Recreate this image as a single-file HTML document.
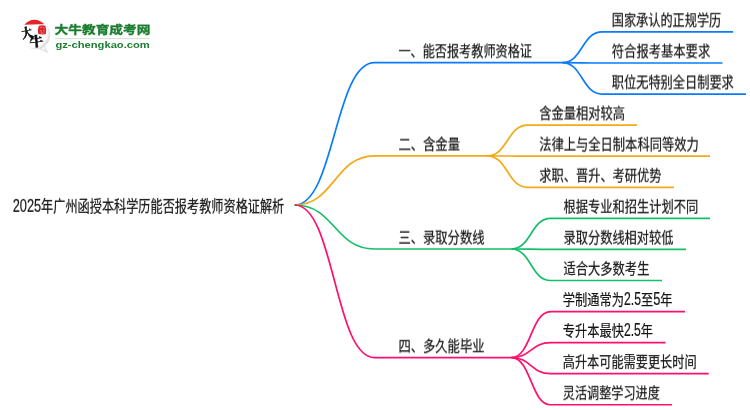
<!DOCTYPE html>
<html lang="zh-CN"><head><meta charset="utf-8"><title>2025年广州函授本科学历能否报考教师资格证解析</title>
<style>
html,body{margin:0;padding:0;background:#fff;}
body{width:750px;height:410px;overflow:hidden;}
svg{display:block;font-family:"Liberation Sans", "Noto Sans CJK SC", sans-serif;}
</style></head><body>
<svg width="750" height="410" viewBox="0 0 750 410">
<rect width="750" height="410" fill="#fff"/>
<defs>
<filter id="s1" x="-5%" y="-25%" width="110%" height="150%"><feConvolveMatrix order="1 2" kernelMatrix="0.1 0.9" targetY="0" edgeMode="none" preserveAlpha="false"/></filter>
<filter id="s2" x="-5%" y="-25%" width="110%" height="150%"><feConvolveMatrix order="1 2" kernelMatrix="0.2 0.8" targetY="0" edgeMode="none" preserveAlpha="false"/></filter>
<filter id="s3" x="-5%" y="-25%" width="110%" height="150%"><feConvolveMatrix order="1 2" kernelMatrix="0.3 0.7" targetY="0" edgeMode="none" preserveAlpha="false"/></filter>
<filter id="s4" x="-5%" y="-25%" width="110%" height="150%"><feConvolveMatrix order="1 2" kernelMatrix="0.4 0.6" targetY="0" edgeMode="none" preserveAlpha="false"/></filter>
<filter id="s5" x="-5%" y="-25%" width="110%" height="150%"><feConvolveMatrix order="1 2" kernelMatrix="0.5 0.5" targetY="0" edgeMode="none" preserveAlpha="false"/></filter>
<filter id="s6" x="-5%" y="-25%" width="110%" height="150%"><feConvolveMatrix order="1 2" kernelMatrix="0.6 0.4" targetY="0" edgeMode="none" preserveAlpha="false"/></filter>
<filter id="s7" x="-5%" y="-25%" width="110%" height="150%"><feConvolveMatrix order="1 2" kernelMatrix="0.7 0.3" targetY="0" edgeMode="none" preserveAlpha="false"/></filter>
<filter id="s8" x="-5%" y="-25%" width="110%" height="150%"><feConvolveMatrix order="1 2" kernelMatrix="0.8 0.2" targetY="0" edgeMode="none" preserveAlpha="false"/></filter>
<filter id="s9" x="-5%" y="-25%" width="110%" height="150%"><feConvolveMatrix order="1 2" kernelMatrix="0.9 0.1" targetY="0" edgeMode="none" preserveAlpha="false"/></filter>
</defs>
<g style="will-change:opacity;opacity:0.999">
<g id="logo">
 <defs>
  <radialGradient id="bg" cx="0.40" cy="0.42" r="0.62">
   <stop offset="0" stop-color="#fff"/><stop offset="0.78" stop-color="#fff"/><stop offset="0.93" stop-color="#e4e4e4"/><stop offset="1" stop-color="#d2d2d2"/>
  </radialGradient>
 </defs>
 <path d="M43.6,45.2 L47.3,52.4 L39.6,48.8 Z" fill="#f4f4f4" stroke="#cfcfcf" stroke-width="0.7" stroke-linejoin="round"/>
 <circle cx="35.6" cy="34.8" r="14.5" fill="url(#bg)"/>
 <path d="M24.3,24.7 A13.2,13.2 0 0 1 44.4,24.2 Q34.5,24.0 24.3,24.7 Z" fill="#e5242b"/>
 <path d="M38.8,25.8 Q42,24.6 45.4,25.8 Q46.8,30 45.8,34 Q42,35.2 38.2,33.8 Q37.2,29.6 38.8,25.8 Z" fill="#d9272e"/>
 <path d="M40.2,27.4 l1.6,0 M43.2,27.2 l1.2,1.4 M40,30.4 l1.8,1 M43.2,30.6 l1.4,0.4 M40.8,33 l2.8,0" stroke="#f0a9ac" stroke-width="0.7" fill="none"/>
 <text x="21.6" y="37.6" font-size="13" font-weight="900" fill="#111" stroke="#111" stroke-width="0.45" font-family="'Liberation Serif','Noto Serif CJK SC',serif" transform="rotate(-10 27 33)" textLength="10.6" lengthAdjust="spacingAndGlyphs">大</text>
 <text x="29.6" y="46.2" font-size="13.5" font-weight="900" fill="#111" stroke="#111" stroke-width="0.4" font-family="'Liberation Serif','Noto Serif CJK SC',serif" transform="rotate(-6 37 42)" textLength="14" lengthAdjust="spacingAndGlyphs">牛</text>
</g>
<text x="54.6" y="34.2" font-size="11.9" font-weight="700" fill="#1c7c30" stroke="#1c7c30" stroke-width="0.35" textLength="95.8" lengthAdjust="spacingAndGlyphs">大牛教育成考网</text>
<rect x="54.6" y="38.3" width="95" height="0.8" fill="#c3dcc7"/>
<text x="55.4" y="47.5" font-size="9.2" font-weight="700" fill="#1c7c30" textLength="94.4" lengthAdjust="spacingAndGlyphs" font-family="'Liberation Sans',sans-serif">gz-chengkao.com</text>
</g>
<g id="map" style="will-change:opacity;opacity:0.999">
<path d="M294.7,205 C334.6,205 334.6,62.6 374.5,62.6 L562.5,62.6" stroke="#0a7cfa" stroke-width="1.7" fill="none" stroke-linecap="butt"/>
<text x="398.40" y="57" font-size="15.30" fill="#151515" stroke="#151515" stroke-width="0.22" font-weight="400" textLength="133.60" lengthAdjust="spacingAndGlyphs" filter="url(#s7)">一、能否报考教师资格证</text>
<path d="M562.5,62.6 C582.2,62.6 582.2,31.93 602,31.93 L733.1,31.93" stroke="#0a7cfa" stroke-width="1.7" fill="none" stroke-linecap="butt"/>
<text x="611.80" y="26" font-size="15.30" fill="#151515" stroke="#151515" stroke-width="0.22" font-weight="400" textLength="109.40" lengthAdjust="spacingAndGlyphs" filter="url(#s7)">国家承认的正规学历</text>
<path d="M562.5,62.6 C582.2,62.6 582.2,63.0 602,63.0 L722.5,63.0" stroke="#0a7cfa" stroke-width="1.7" fill="none" stroke-linecap="butt"/>
<text x="611.80" y="57" font-size="15.30" fill="#151515" stroke="#151515" stroke-width="0.22" font-weight="400" textLength="98.40" lengthAdjust="spacingAndGlyphs" filter="url(#s6)">符合报考基本要求</text>
<path d="M562.5,62.6 C582.2,62.6 582.2,94.07 602,94.07 L746,94.07" stroke="#0a7cfa" stroke-width="1.7" fill="none" stroke-linecap="butt"/>
<text x="611.80" y="88" font-size="15.30" fill="#151515" stroke="#151515" stroke-width="0.22" font-weight="400" textLength="122.00" lengthAdjust="spacingAndGlyphs" filter="url(#s5)">职位无特别全日制要求</text>
<path d="M294.7,205 C334.6,205 334.6,155.81 374.5,155.81 L487.2,155.81" stroke="#f2aa1a" stroke-width="1.7" fill="none" stroke-linecap="butt"/>
<text x="398.40" y="150" font-size="15.30" fill="#151515" stroke="#151515" stroke-width="0.22" font-weight="400" textLength="61.60" lengthAdjust="spacingAndGlyphs" filter="url(#s5)">二、含金量</text>
<path d="M487.2,155.81 C507.4,155.81 507.4,125.14 527.5,125.14 L637,125.14" stroke="#f2aa1a" stroke-width="1.7" fill="none" stroke-linecap="butt"/>
<text x="539.30" y="119" font-size="15.30" fill="#151515" stroke="#151515" stroke-width="0.22" font-weight="400" textLength="85.70" lengthAdjust="spacingAndGlyphs" filter="url(#s5)">含金量相对较高</text>
<path d="M487.2,155.81 C507.4,155.81 507.4,156.21 527.5,156.21 L710,156.21" stroke="#f2aa1a" stroke-width="1.7" fill="none" stroke-linecap="butt"/>
<text x="539.30" y="150" font-size="15.30" fill="#151515" stroke="#151515" stroke-width="0.22" font-weight="400" textLength="159.40" lengthAdjust="spacingAndGlyphs" filter="url(#s4)">法律上与全日制本科同等效力</text>
<path d="M487.2,155.81 C507.4,155.81 507.4,187.28 527.5,187.28 L674,187.28" stroke="#f2aa1a" stroke-width="1.7" fill="none" stroke-linecap="butt"/>
<text x="539.30" y="181" font-size="15.30" fill="#151515" stroke="#151515" stroke-width="0.22" font-weight="400" textLength="122.20" lengthAdjust="spacingAndGlyphs" filter="url(#s3)">求职、晋升、考研优势</text>
<path d="M294.7,205 C334.6,205 334.6,249.02 374.5,249.02 L511.5,249.02" stroke="#14be6a" stroke-width="1.7" fill="none" stroke-linecap="butt"/>
<text x="398.40" y="243" font-size="15.30" fill="#151515" stroke="#151515" stroke-width="0.22" font-weight="400" textLength="86.10" lengthAdjust="spacingAndGlyphs" filter="url(#s3)">三、录取分数线</text>
<path d="M511.5,249.02 C531.0,249.02 531.0,218.35 550.5,218.35 L710,218.35" stroke="#14be6a" stroke-width="1.7" fill="none" stroke-linecap="butt"/>
<text x="563.60" y="212" font-size="15.30" fill="#151515" stroke="#151515" stroke-width="0.22" font-weight="400" textLength="134.70" lengthAdjust="spacingAndGlyphs" filter="url(#s2)">根据专业和招生计划不同</text>
<path d="M511.5,249.02 C531.0,249.02 531.0,249.42 550.5,249.42 L686,249.42" stroke="#14be6a" stroke-width="1.7" fill="none" stroke-linecap="butt"/>
<text x="563.60" y="243" font-size="15.30" fill="#151515" stroke="#151515" stroke-width="0.22" font-weight="400" textLength="109.80" lengthAdjust="spacingAndGlyphs" filter="url(#s2)">录取分数线相对较低</text>
<path d="M511.5,249.02 C531.0,249.02 531.0,280.49 550.5,280.49 L662,280.49" stroke="#14be6a" stroke-width="1.7" fill="none" stroke-linecap="butt"/>
<text x="563.60" y="274" font-size="15.30" fill="#151515" stroke="#151515" stroke-width="0.22" font-weight="400" textLength="85.80" lengthAdjust="spacingAndGlyphs" filter="url(#s1)">适合大多数考生</text>
<path d="M294.7,205 C334.6,205 334.6,357.56 374.5,357.56 L511.5,357.56" stroke="#ff0f6e" stroke-width="1.7" fill="none" stroke-linecap="butt"/>
<text x="398.40" y="352" font-size="15.30" fill="#151515" stroke="#151515" stroke-width="0.22" font-weight="400" textLength="86.10" lengthAdjust="spacingAndGlyphs" filter="url(#s7)">四、多久能毕业</text>
<path d="M511.5,357.56 C531.0,357.56 531.0,311.56 550.5,311.56 L685,311.56" stroke="#ff0f6e" stroke-width="1.7" fill="none" stroke-linecap="butt"/>
<text y="305" font-size="15.30" fill="#151515" stroke="#151515" stroke-width="0.22" font-weight="400"><tspan x="562.80" font-size="15.30" textLength="61.21" lengthAdjust="spacingAndGlyphs">学制通常为</tspan><tspan x="624.01" font-size="17.44" textLength="16.90" lengthAdjust="spacingAndGlyphs">2.5</tspan><tspan x="640.91" font-size="15.30" textLength="12.24" lengthAdjust="spacingAndGlyphs">至</tspan><tspan x="653.16" font-size="17.44" textLength="7.10" lengthAdjust="spacingAndGlyphs">5</tspan><tspan x="660.26" font-size="15.30" textLength="12.24" lengthAdjust="spacingAndGlyphs">年</tspan></text>
<path d="M511.5,357.56 C531.0,357.56 531.0,342.63 550.5,342.63 L665.6,342.63" stroke="#ff0f6e" stroke-width="1.7" fill="none" stroke-linecap="butt"/>
<text y="336" font-size="15.30" fill="#151515" stroke="#151515" stroke-width="0.22" font-weight="400"><tspan x="562.80" font-size="15.30" textLength="61.08" lengthAdjust="spacingAndGlyphs">专升本最快</tspan><tspan x="623.88" font-size="17.44" textLength="16.90" lengthAdjust="spacingAndGlyphs">2.5</tspan><tspan x="640.78" font-size="15.30" textLength="12.22" lengthAdjust="spacingAndGlyphs">年</tspan></text>
<path d="M511.5,357.56 C531.0,357.56 531.0,373.7 550.5,373.7 L708.8,373.7" stroke="#ff0f6e" stroke-width="1.7" fill="none" stroke-linecap="butt"/>
<text x="562.80" y="368" font-size="15.30" fill="#151515" stroke="#151515" stroke-width="0.22" font-weight="400" textLength="133.80" lengthAdjust="spacingAndGlyphs" filter="url(#s9)">高升本可能需要更长时间</text>
<path d="M511.5,357.56 C531.0,357.56 531.0,404.77 550.5,404.77 L672,404.77" stroke="#ff0f6e" stroke-width="1.7" fill="none" stroke-linecap="butt"/>
<text x="562.80" y="399" font-size="15.30" fill="#151515" stroke="#151515" stroke-width="0.22" font-weight="400" textLength="97.00" lengthAdjust="spacingAndGlyphs" filter="url(#s8)">灵活调整学习进度</text>
<text y="212" font-size="16.00" fill="#151515" stroke="#151515" stroke-width="0.22" font-weight="400" filter="url(#s1)"><tspan x="12.70" font-size="18.24" textLength="28.40" lengthAdjust="spacingAndGlyphs">2025</tspan><tspan x="41.10" font-size="16.00" textLength="243.20" lengthAdjust="spacingAndGlyphs">年广州函授本科学历能否报考教师资格证解析</tspan></text>
</g>
</svg>
</body></html>
